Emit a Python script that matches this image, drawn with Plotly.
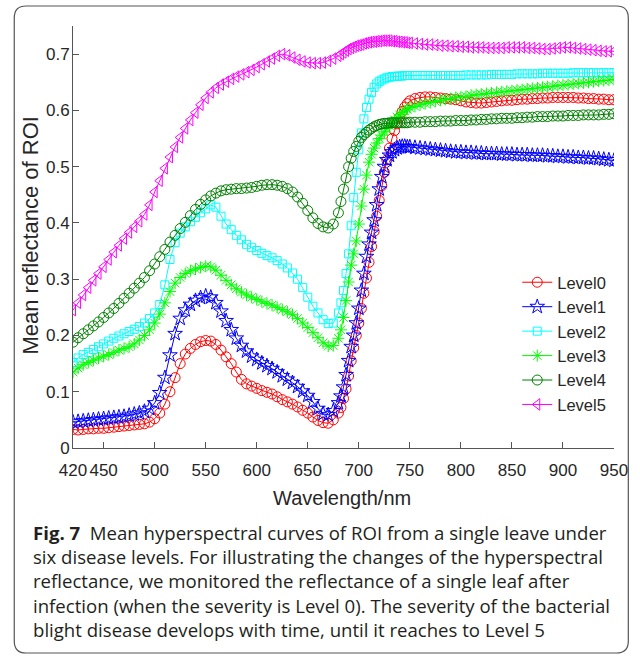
import plotly.graph_objects as go

# ---------------- data ----------------
wavelengths = ([420 + 5 * i for i in range(53)] +
               [682.5 + 2.5 * i for i in range(28)] +
               [755 + 5 * i for i in range(40)])

level0 = [.033,.032,.033,.034,.034,.035,.035,.036,.037,.038,.039,.040,.041,.042,.043,.046,.052,.062,.078,.100,
          .125,.150,.167,.177,.184,.189,.191,.190,.184,.174,.162,.150,.135,.122,.114,.110,.106,.102,.099,.096,
          .091,.086,.082,.078,.073,.067,.062,.055,.049,.045,.044,.050,.062] + \
         [.072,.088,.105,.128,.155,.178,.200,.222,.248,.275,.302,.330,.358,.385,.412,.440,.466,.490,.512,.533,
          .550,.564,.576,.588,.598,.606,.612,.617] + \
         [.621,.623,.624,.624,.623,.622,.621,.620,.619,.617,.615,.614,.613,.613,.614,.615,.616,.617,.618,.618,
          .619,.620,.620,.621,.621,.622,.622,.623,.623,.623,.623,.623,.622,.622,.621,.621,.620,.620,.619,.619]

level1 = [.046,.047,.048,.049,.050,.051,.052,.053,.054,.055,.056,.058,.060,.062,.065,.070,.080,.098,.125,.165,
          .203,.230,.245,.255,.262,.267,.270,.268,.258,.243,.226,.210,.195,.182,.172,.163,.157,.151,.146,.141,
          .135,.128,.122,.116,.109,.101,.093,.082,.070,.061,.059,.066,.080] + \
         [.092,.108,.130,.155,.180,.200,.222,.248,.280,.310,.340,.362,.383,.405,.432,.460,.482,.500,.512,.520,
          .526,.530,.533,.535,.536,.536,.535,.535] + \
         [.534,.533,.532,.531,.530,.529,.528,.527,.526,.526,.525,.525,.524,.524,.523,.523,.523,.522,.522,.522,
          .521,.521,.521,.520,.520,.520,.519,.519,.518,.518,.517,.517,.516,.516,.515,.515,.514,.513,.512,.511]

level2 = [.152,.160,.166,.170,.175,.180,.185,.190,.195,.199,.203,.207,.211,.216,.222,.230,.240,.255,.290,.335,
          .365,.382,.393,.402,.410,.418,.425,.432,.428,.412,.398,.388,.378,.370,.362,.356,.351,.346,.342,.338,
          .333,.327,.320,.311,.300,.285,.268,.252,.240,.228,.221,.222,.240] + \
         [.258,.280,.310,.345,.395,.445,.490,.530,.560,.585,.605,.620,.632,.641,.647,.651,.654,.656,.658,.659,
          .660,.660,.661,.661,.661,.662,.662,.662] + \
         [.662,.662,.662,.662,.662,.662,.662,.662,.662,.662,.663,.663,.663,.663,.663,.664,.664,.664,.664,.664,
          .665,.665,.665,.665,.665,.666,.666,.666,.666,.666,.666,.667,.667,.667,.667,.667,.667,.667,.667,.667]

level3 = [.135,.142,.148,.152,.156,.160,.163,.166,.170,.174,.177,.180,.185,.192,.200,.210,.222,.238,.258,.278,
          .293,.303,.310,.315,.318,.321,.323,.322,.316,.307,.298,.290,.283,.277,.272,.268,.264,.260,.257,.254,
          .250,.246,.242,.237,.230,.222,.214,.205,.196,.187,.181,.182,.195] + \
         [.210,.232,.262,.295,.325,.345,.368,.398,.430,.460,.485,.508,.522,.533,.542,.550,.556,.562,.568,.573,
          .578,.583,.588,.592,.596,.599,.602,.605] + \
         [.607,.610,.612,.614,.616,.618,.620,.621,.623,.624,.625,.627,.628,.629,.630,.631,.632,.633,.634,.635,
          .636,.637,.638,.639,.640,.641,.642,.643,.644,.645,.646,.647,.648,.649,.650,.651,.652,.653,.654,.655]

level4 = [.188,.196,.203,.210,.217,.224,.232,.240,.248,.257,.266,.275,.284,.293,.303,.315,.327,.340,.353,.366,
          .378,.390,.401,.413,.424,.433,.441,.448,.453,.457,.459,.460,.461,.461,.462,.463,.465,.467,.468,.468,
          .467,.465,.461,.455,.446,.435,.422,.409,.399,.393,.391,.398,.418] + \
         [.438,.460,.480,.500,.515,.527,.536,.545,.552,.557,.561,.565,.568,.571,.573,.575,.576,.577,.577,.578,
          .578,.578,.578,.578,.578,.578,.578,.579] + \
         [.579,.579,.580,.580,.580,.581,.581,.581,.582,.582,.582,.583,.583,.584,.584,.585,.585,.586,.586,.586,
          .587,.587,.588,.588,.589,.589,.589,.590,.590,.590,.591,.591,.591,.592,.592,.592,.592,.593,.593,.594]

level5 = [.245,.258,.272,.285,.298,.310,.322,.335,.348,.360,.372,.383,.393,.403,.415,.432,.455,.475,.497,.517,
          .535,.552,.568,.583,.596,.610,.622,.632,.640,.646,.651,.656,.660,.664,.668,.672,.677,.682,.687,.692,
          .697,.700,.698,.694,.690,.687,.685,.684,.684,.685,.688,.692,.697] + \
         [.700,.703,.706,.709,.711,.713,.715,.716,.717,.719,.720,.721,.722,.722,.723,.723,.724,.724,.724,.724,
          .723,.723,.722,.722,.721,.721,.720,.720] + \
         [.719,.718,.717,.717,.716,.715,.715,.714,.714,.713,.713,.712,.712,.712,.711,.711,.711,.711,.712,.712,
          .712,.712,.711,.711,.710,.709,.709,.710,.711,.712,.712,.711,.710,.709,.708,.707,.706,.705,.705,.705]

series_names = ["Level0", "Level1", "Level2", "Level3", "Level4", "Level5"]
series_values = [level0, level1, level2, level3, level4, level5]

x_tickvals = [420, 450, 500, 550, 600, 650, 700, 750, 800, 850, 900, 950]
y_tickvals = [0, 0.1, 0.2, 0.3, 0.4, 0.5, 0.6, 0.7]
y_ticktext = ["0", "0.1", "0.2", "0.3", "0.4", "0.5", "0.6", "0.7"]

caption_lines = [
    "<b>Fig. 7</b>\u00a0 Mean hyperspectral curves of ROI from a single leave under",
    "six disease levels. For illustrating the changes of the hyperspectral",
    "reflectance, we monitored the reflectance of a single leaf after",
    "infection (when the severity is Level 0). The severity of the bacterial",
    "blight disease develops with time, until it reaches to Level 5",
]

# ---------------- style ----------------
colors = ["#FF0000", "#0000FF", "#00FFFF", "#00FF00", "#008000", "#FF00FF"]
symbols = ["circle-open", "star-open", "square-open", "asterisk-open", "circle-open", "triangle-left-open"]
sizes = [10, 11, 8, 10, 10, 10]

W, H = 640, 661
ML, MR, MT, MB = 73, 19, 26, 213
PW, PH = W - ML - MR, H - MT - MB


def px(X):
    return (X - ML) / PW


def py(Y):
    return (H - MB - Y) / PH


fig = go.Figure()
for name, vals, col, sym, sz in zip(series_names, series_values, colors, symbols, sizes):
    fig.add_trace(go.Scatter(
        x=wavelengths, y=vals, name=name, mode="lines+markers",
        line=dict(color=col, width=1),
        marker=dict(symbol=sym, size=sz, color=col, line=dict(color=col, width=1)),
    ))

ARIAL = "Liberation Sans, Arial, sans-serif"
tick_font = dict(family=ARIAL, size=17, color="#262626")

fig.update_xaxes(range=[420, 950], tickvals=x_tickvals, ticks="inside", ticklen=6,
                 tickcolor="#555555", showline=True, linecolor="#555555", linewidth=1,
                 showgrid=False, zeroline=False, tickfont=tick_font, mirror=False,
                 ticklabelstandoff=7)
fig.update_yaxes(range=[0, 0.75], tickvals=y_tickvals, ticktext=y_ticktext, ticks="inside",
                 ticklen=6, tickcolor="#555555", showline=True, linecolor="#555555",
                 linewidth=1, showgrid=False, zeroline=False, tickfont=tick_font, mirror=False,
                 ticklabelstandoff=-1)

annotations = [
    dict(text="Wavelength/nm", xref="paper", yref="paper", x=px(345), y=py(498),
         xanchor="center", yanchor="middle", showarrow=False,
         font=dict(family=ARIAL, size=20, color="#262626")),
    dict(text="Mean reflectance of ROI", xref="paper", yref="paper", x=px(29), y=py(236),
         xanchor="center", yanchor="middle", showarrow=False, textangle=-90,
         font=dict(family=ARIAL, size=22, color="#262626")),
    dict(text="<br>".join(caption_lines), xref="paper", yref="paper", x=px(30), y=py(581),
         xanchor="left", yanchor="middle", align="left", showarrow=False,
         font=dict(family="Open Sans, sans-serif", size=18.6, color="#231f20")),
]

# rounded border box
x0, x1, y0, y1, r = 13.5, 635.5, 6, 653, 12
path = (f"M {px(x0 + r)},{py(y0)} L {px(x1 - r)},{py(y0)} "
        f"Q {px(x1)},{py(y0)} {px(x1)},{py(y0 + r)} "
        f"L {px(x1)},{py(y1 - r)} Q {px(x1)},{py(y1)} {px(x1 - r)},{py(y1)} "
        f"L {px(x0 + r)},{py(y1)} Q {px(x0)},{py(y1)} {px(x0)},{py(y1 - r)} "
        f"L {px(x0)},{py(y0 + r)} Q {px(x0)},{py(y0)} {px(x0 + r)},{py(y0)} Z")

fig.update_layout(
    width=W, height=H, margin=dict(l=ML, r=MR, t=MT, b=MB),
    paper_bgcolor="white", plot_bgcolor="white",
    showlegend=True,
    legend=dict(x=px(523), y=py(265), xanchor="left", yanchor="top",
                bgcolor="rgba(0,0,0,0)", borderwidth=0,
                font=dict(family=ARIAL, size=16.5, color="#262626"),
                tracegroupgap=0),
    annotations=annotations,
    shapes=[dict(type="path", path=path, xref="paper", yref="paper",
                 line=dict(color="#555555", width=1.2), fillcolor="rgba(0,0,0,0)", layer="below")],
)

fig.write_html("out.html")
